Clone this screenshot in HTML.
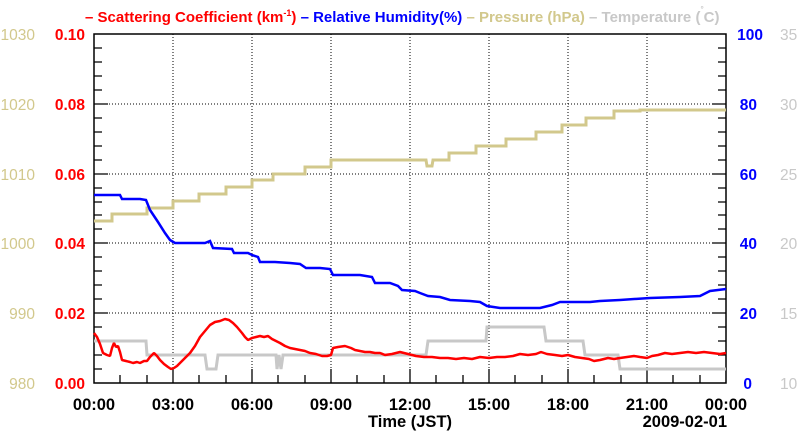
<!DOCTYPE html>
<html><head><meta charset="utf-8"><style>
body{margin:0;background:#fff}
svg{display:block;font-family:"Liberation Sans",sans-serif;font-weight:bold}
</style></head><body>
<svg width="800" height="434" viewBox="0 0 800 434">
<rect width="800" height="434" fill="#fff"/>
<text x="85" y="22" font-size="15"><tspan fill="#f00">– Scattering Coefficient (km<tspan font-size="9" dy="-6">-1</tspan><tspan dy="6">) </tspan></tspan><tspan fill="#00f">– Relative Humidity(%) </tspan><tspan fill="#d2c88c">– Pressure (hPa) </tspan><tspan fill="#c8c8c8">– Temperature (</tspan><tspan fill="#c8c8c8" font-size="8" dy="-10">°</tspan><tspan fill="#c8c8c8" dy="10">C)</tspan></text>
<g stroke="#000" stroke-width="1" stroke-dasharray="1,2">
<line x1="173" y1="34" x2="173" y2="383"/><line x1="252" y1="34" x2="252" y2="383"/><line x1="331" y1="34" x2="331" y2="383"/><line x1="410" y1="34" x2="410" y2="383"/><line x1="489" y1="34" x2="489" y2="383"/><line x1="568" y1="34" x2="568" y2="383"/><line x1="647" y1="34" x2="647" y2="383"/>
<line x1="94" y1="104" x2="726" y2="104"/><line x1="94" y1="174" x2="726" y2="174"/><line x1="94" y1="243" x2="726" y2="243"/><line x1="94" y1="313" x2="726" y2="313"/>
</g>
<g stroke="#000" stroke-width="1.3">
<path d="M94,48h8M94,62h8M94,76h8M94,90h8M94,104h14M94,118h8M94,132h8M94,146h8M94,160h8M94,174h14M94,188h8M94,202h8M94,215h8M94,229h8M94,243h14M94,257h8M94,271h8M94,285h8M94,299h8M94,313h14M94,327h8M94,341h8M94,355h8M94,369h8"/>
<path d="M726,48h-8M726,62h-8M726,76h-8M726,90h-8M726,104h-14M726,118h-8M726,132h-8M726,146h-8M726,160h-8M726,174h-14M726,188h-8M726,202h-8M726,215h-8M726,229h-8M726,243h-14M726,257h-8M726,271h-8M726,285h-8M726,299h-8M726,313h-14M726,327h-8M726,341h-8M726,355h-8M726,369h-8"/>
<path d="M120,383v-8M147,383v-8M173,383v-14M199,383v-8M226,383v-8M252,383v-14M278,383v-8M305,383v-8M331,383v-14M357,383v-8M384,383v-8M410,383v-14M436,383v-8M463,383v-8M489,383v-14M515,383v-8M542,383v-8M568,383v-14M594,383v-8M621,383v-8M647,383v-14M673,383v-8M700,383v-8"/>
</g>
<rect x="94" y="34" width="632" height="349" fill="none" stroke="#000" stroke-width="1.5"/>
<polyline fill="none" stroke="#c8c8c8" stroke-width="3" points="94,341 146,341 147,355 205,355 207,369 216,369 218,355 276,355 277,369 279,355 281,369 283,355 426,355 428,341 486,341 487,327 544,327 546,341 583,341 585,355 618,355 620,369 726,369"/>
<polyline fill="none" stroke="#d2c88c" stroke-width="3" points="94,221 112,221 112,214 147,214 147,208 173,208 173,201 199,201 199,194 226,194 226,187 252,187 252,180 273,180 273,174 305,174 305,167 331,167 331,160 426,160 427,166 432,166 433,160 449,160 449,153 476,153 476,146 506,146 506,139 536,139 536,132 562,132 562,125 586,125 586,118 614,118 614,111 640,111 640,110 726,110"/>
<polyline fill="none" stroke="#00f" stroke-width="2.5" points="94,195 120,195 122,199 140,199 146,200 150,210 158,222 165,233 170,240 175,243 205,243 210,241 213,248 232,249 234,253 248,253 252,255 258,257 260,262 275,262 290,263 300,264 306,268 320,268 330,269 333,275 360,275 372,277 375,283 390,283 398,286 402,290 415,291 420,293 428,296 440,297 450,300 470,301 480,302 487,306 500,308 520,308 540,308 552,305 560,302 590,302 600,301 620,300 650,298 680,297 700,296 710,291 726,289"/>
<polyline fill="none" stroke="#f00" stroke-width="2.5" stroke-linejoin="bevel" points="94,333 97,337 100,344 103,353 107,355 110,356 112,348 114,343 116,347 118,346 120,352 122,360 126,361 130,362 133,363 137,362 140,363 144,361 147,361 150,357 154,353 157,356 160,360 164,364 168,367 171,369 174,368 177,366 181,362 185,358 190,353 195,346 200,337 205,331 210,325 215,322 220,321 225,319 229,320 233,323 237,327 242,333 245,337 248,340 252,338 256,337 260,336 264,337 268,336 272,339 276,341 280,343 285,346 290,348 295,349 300,350 305,351 310,353 316,354 322,356 327,356 331,355 333,348 338,347 345,346 351,348 355,350 360,351 365,352 370,352 375,353 380,353 385,355 392,354 400,352 408,354 416,356 424,357 432,357 440,358 448,358 456,359 464,358 472,359 480,357 489,358 497,357 505,357 513,356 520,354 528,355 536,354 541,352 547,354 555,355 562,356 568,355 575,357 582,358 589,359 594,361 600,360 608,358 614,359 620,358 627,357 634,356 640,357 647,358 652,356 658,355 665,353 672,354 680,353 688,352 696,353 704,352 712,353 720,354 726,353"/>
<g font-size="15.5" text-anchor="end">
<g fill="#f00"><text x="85" y="40">0.10</text><text x="85" y="110">0.08</text><text x="85" y="180">0.06</text><text x="85" y="249">0.04</text><text x="85" y="319">0.02</text><text x="85" y="389">0.00</text></g>
<g fill="#d2c88c" font-weight="normal"><text x="35" y="40">1030</text><text x="35" y="110">1020</text><text x="35" y="180">1010</text><text x="35" y="249">1000</text><text x="35" y="319">990</text><text x="35" y="389">980</text></g>
<g fill="#00f"><text x="763" y="40">100</text><text x="757" y="110">80</text><text x="757" y="180">60</text><text x="757" y="249">40</text><text x="757" y="319">20</text><text x="752" y="389">0</text></g>
</g>
<g font-size="15.5" fill="#c8c8c8" font-weight="normal"><text x="780" y="40">35</text><text x="780" y="110">30</text><text x="780" y="180">25</text><text x="780" y="249">20</text><text x="780" y="319">15</text><text x="780" y="389">10</text></g>
<g font-size="16.5" text-anchor="middle" fill="#000">
<text x="94" y="410">00:00</text><text x="173" y="410">03:00</text><text x="252" y="410">06:00</text><text x="331" y="410">09:00</text><text x="410" y="410">12:00</text><text x="489" y="410">15:00</text><text x="568" y="410">18:00</text><text x="647" y="410">21:00</text><text x="726" y="410">00:00</text>
<text x="410" y="427">Time (JST)</text>
<text x="727" y="427" text-anchor="end">2009-02-01</text>
</g>
</svg>
</body></html>
